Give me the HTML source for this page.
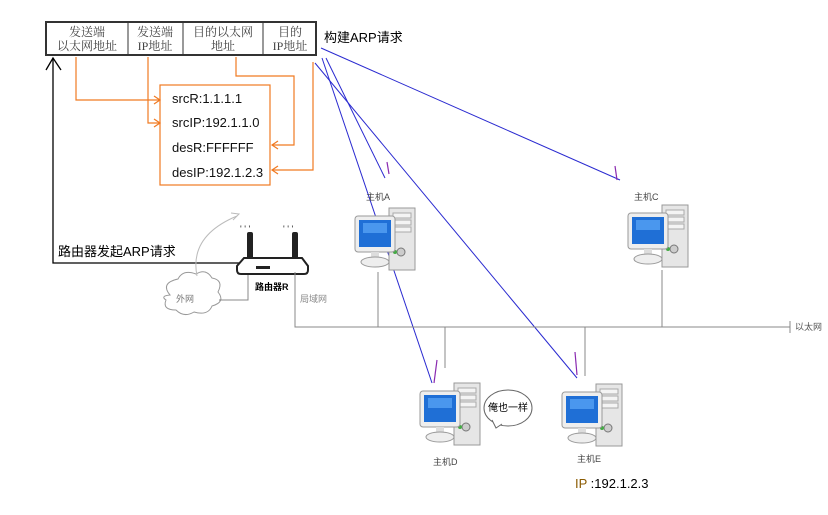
<!DOCTYPE html>
<html><head><meta charset="utf-8"><style>
body{margin:0;background:#fff;}
svg{display:block;font-family:"Liberation Sans","Noto Sans CJK SC",sans-serif;}
</style></head><body>
<svg width="828" height="515" viewBox="0 0 828 515" xmlns="http://www.w3.org/2000/svg">
<defs>
<g id="pc">
  <rect x="34" y="0" width="26" height="62" fill="#e6e6e6" stroke="#999"/>
  <rect x="38" y="5" width="18" height="5" fill="#f4f4f4" stroke="#aaa"/>
  <rect x="38" y="12" width="18" height="5" fill="#f4f4f4" stroke="#aaa"/>
  <rect x="38" y="19" width="18" height="5" fill="#f4f4f4" stroke="#aaa"/>
  <circle cx="46" cy="44" r="4" fill="#ccc" stroke="#777"/>
  <circle cx="40" cy="44" r="2" fill="#4a4"/>
  <rect x="0" y="8" width="40" height="36" rx="3" fill="#eee" stroke="#999"/>
  <rect x="4" y="12" width="32" height="27" fill="#1f6fd6"/>
  <rect x="8" y="15" width="24" height="10" fill="#4a97ee"/>
  <rect x="16" y="44" width="8" height="6" fill="#ddd"/>
  <ellipse cx="20" cy="54" rx="14" ry="5" fill="#eee" stroke="#999"/>
</g>
</defs>
<rect x="46" y="22" width="270" height="33" fill="#fff" stroke="#333" stroke-width="2"/>
<line x1="128" y1="22" x2="128" y2="55" stroke="#333"/>
<line x1="183" y1="22" x2="183" y2="55" stroke="#333"/>
<line x1="263" y1="22" x2="263" y2="55" stroke="#333"/>
<g font-family="'Liberation Serif','Noto Serif CJK SC',serif" font-size="12" fill="#444" text-anchor="middle">
<text x="87" y="36">发送端</text><text x="87" y="50">以太网地址</text>
<text x="155" y="36">发送端</text><text x="155" y="50">IP地址</text>
<text x="223" y="36">目的以太网</text><text x="223" y="50">地址</text>
<text x="290" y="36">目的</text><text x="290" y="50">IP地址</text>
</g>
<text x="324" y="42" font-size="13">构建ARP请求</text>
<rect x="160" y="85" width="110" height="100" fill="none" stroke="#f07a22" stroke-width="1.2"/>
<g font-size="13" fill="#111">
<text x="172" y="103">srcR:1.1.1.1</text>
<text x="172" y="127">srcIP:192.1.1.0</text>
<text x="172" y="152">desR:FFFFFF</text>
<text x="172" y="177">desIP:192.1.2.3</text>
</g>
<g stroke="#f07a22" fill="none" stroke-width="1.2">
<polyline points="76,57 76,100 160,100"/><polyline points="154,96 160,100 154,104"/>
<polyline points="148,57 148,123 160,123"/><polyline points="154,119 160,123 154,127"/>
<polyline points="236,57 236,76 294,76 294,145 272,145"/><polyline points="278,141 272,145 278,149"/>
<polyline points="313,62 313,170 272,170"/><polyline points="278,166 272,170 278,174"/>
</g>
<g stroke="#2a2ad0" stroke-width="1" fill="none">
<line x1="321" y1="48" x2="620" y2="180"/>
<line x1="326" y1="58" x2="385" y2="178"/>
<line x1="322" y1="58" x2="432" y2="383"/>
<line x1="315" y1="63" x2="577" y2="378"/>
</g>
<g stroke="#8a2ab0" stroke-width="1.2">
<line x1="615" y1="166" x2="617" y2="180"/>
<line x1="387" y1="162" x2="389" y2="174"/>
<line x1="437" y1="360" x2="434" y2="383"/>
<line x1="575" y1="352" x2="577" y2="375"/>
</g>
<g stroke="#000" stroke-width="1.3" fill="none">
<polyline points="53,58 53,263 240,263"/>
<polyline points="46,70 53,58 61,70"/>
</g>
<text x="58" y="256" font-size="13">路由器发起ARP请求</text>
<path d="M170,295 q-10,-12 8,-16 q5,-10 18,-5 q10,-6 16,4 q12,2 6,14 q8,10 -6,14 q-4,10 -18,6 q-10,6 -18,-2 q-14,0 -10,-10 q-6,-4 4,-5z" fill="#fff" stroke="#999"/>
<text x="176" y="302" font-size="9" fill="#777">外网</text>
<path d="M197,276 q-8,-40 40,-60" fill="none" stroke="#bbb"/>
<polyline points="231,213 239,214 233,220" fill="none" stroke="#bbb"/>
<polyline points="219,300 248,300 248,272" fill="none" stroke="#888"/>
<rect x="247" y="232" width="6" height="28" rx="2" fill="#222"/>
<rect x="292" y="232" width="6" height="28" rx="2" fill="#222"/>
<path d="M244,258 L302,258 L308,266 L308,270 Q308,274 304,274 L241,274 Q237,274 237,270 L237,266 Z" fill="#fff" stroke="#222" stroke-width="2"/>
<rect x="256" y="266" width="14" height="3" fill="#222"/>
<g font-size="9" fill="#222"><text x="240" y="232">' ' '</text><text x="283" y="232">' ' '</text></g>
<text x="255" y="290" font-size="9" font-weight="bold">路由器R</text>
<text x="300" y="302" font-size="9" fill="#888">局域网</text>
<g stroke="#888" stroke-width="1" fill="none">
<polyline points="295,272 295,327 790,327"/>
<line x1="378" y1="272" x2="378" y2="327"/>
<line x1="662" y1="270" x2="662" y2="327"/>
<line x1="445" y1="327" x2="445" y2="368"/>
<line x1="585" y1="327" x2="585" y2="376"/>
<line x1="790" y1="321" x2="790" y2="333"/>
</g>
<text x="795" y="330" font-size="9" fill="#555">以太网</text>
<use href="#pc" x="355" y="208"/>
<use href="#pc" x="628" y="205"/>
<use href="#pc" x="420" y="383"/>
<use href="#pc" x="562" y="384"/>
<g font-size="9" fill="#444">
<text x="366" y="200">主机A</text>
<text x="634" y="200">主机C</text>
<text x="433" y="465">主机D</text>
<text x="577" y="462">主机E</text>
</g>
<ellipse cx="508" cy="408" rx="24" ry="18" fill="#fff" stroke="#666"/>
<path d="M492,420 L496,428 L502,424" fill="#fff" stroke="#666"/>
<text x="488" y="411" font-size="10">俺也一样</text>
<text x="575" y="488" font-size="13"><tspan fill="#8a5a00">IP</tspan> :192.1.2.3</text>
</svg>
</body></html>
